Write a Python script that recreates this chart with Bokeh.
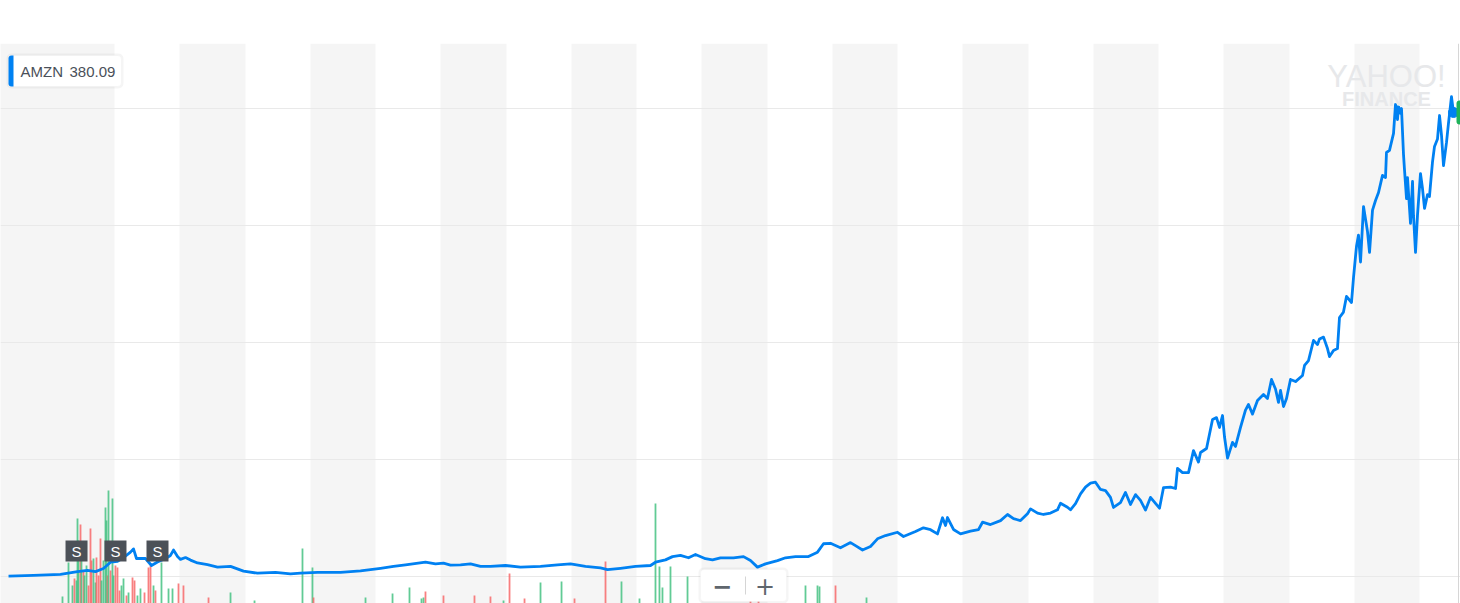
from bokeh.plotting import figure
from bokeh.models import Range1d, BoxAnnotation, Label
from bokeh.core.properties import value
from bokeh.embed import file_html
from bokeh.resources import INLINE

# ---------------- data ----------------
years = [
    1997.376, 1997.759, 1998.172, 1998.433, 1998.586, 1998.709, 1998.831, 1998.939, 1999.046, 1999.138,
    1999.245, 1999.291, 1999.337, 1999.475, 1999.567, 1999.659, 1999.782, 1999.858, 1999.904, 1999.966,
    2000.011, 2000.088, 2000.165, 2000.272, 2000.425, 2000.579, 2000.778, 2000.977, 2001.191, 2001.467,
    2001.697, 2001.851, 2002.111, 2002.464, 2002.770, 2003.077, 2003.276, 2003.460, 2003.766, 2003.920,
    2004.042, 2004.149, 2004.303, 2004.456, 2004.609, 2004.762, 2004.992, 2005.222, 2005.529, 2005.789,
    2005.989, 2006.218, 2006.448, 2006.556, 2006.755, 2006.985, 2007.215, 2007.291, 2007.444, 2007.552,
    2007.674, 2007.797, 2007.904, 2008.057, 2008.165, 2008.287, 2008.487, 2008.640, 2008.747, 2008.854,
    2008.977, 2009.161, 2009.284, 2009.437, 2009.636, 2009.774, 2009.866, 2009.973, 2010.126, 2010.280,
    2010.356, 2010.464, 2010.586, 2010.693, 2010.816, 2011.000, 2011.092, 2011.276, 2011.398, 2011.506,
    2011.613, 2011.690, 2011.736, 2011.766, 2011.858, 2011.966, 2012.119, 2012.241, 2012.303, 2012.425,
    2012.579, 2012.686, 2012.778, 2012.885, 2012.992, 2013.038, 2013.146, 2013.238, 2013.345, 2013.452,
    2013.498, 2013.605, 2013.651, 2013.728, 2013.805, 2013.881, 2013.958, 2014.034, 2014.111, 2014.188,
    2014.264, 2014.310, 2014.417, 2014.494, 2014.571, 2014.648, 2014.724, 2014.801, 2014.877, 2015.015,
    2015.077, 2015.184, 2015.261, 2015.291, 2015.368, 2015.460, 2015.536, 2015.613, 2015.644, 2015.736,
    2015.828, 2015.889, 2015.935, 2015.981, 2016.012, 2016.058, 2016.134, 2016.180, 2016.257, 2016.333,
    2016.379, 2016.441, 2016.517, 2016.609, 2016.670, 2016.732, 2016.793, 2016.839, 2016.870, 2016.916,
    2016.962, 2017.023, 2017.100, 2017.207, 2017.238, 2017.299, 2017.376, 2017.437, 2017.467, 2017.529,
    2017.590, 2017.621, 2017.682, 2017.743, 2017.774, 2017.835, 2017.881, 2017.958, 2017.989, 2018.034,
    2018.065, 2018.096, 2018.142, 2018.203, 2018.234, 2018.280, 2018.326, 2018.372, 2018.433, 2018.479,
    2018.494, 2018.540, 2018.602, 2018.632, 2018.663, 2018.678, 2018.709, 2018.724, 2018.755, 2018.770,
    2018.801, 2018.816, 2018.862, 2018.893, 2018.908, 2018.939, 2018.969, 2019.015, 2019.046, 2019.077,
    2019.123, 2019.153, 2019.199, 2019.230, 2019.276, 2019.307, 2019.337, 2019.368, 2019.414, 2019.444,
    2019.490, 2019.521,
]
prices = [
    2, 5, 9, 21, 26, 21, 34, 61, 65, 81,
    104, 118, 77, 77, 47, 62, 77, 90, 113, 85,
    73, 81, 70, 58, 51, 40, 43, 23, 14, 18,
    11, 14, 18, 18, 24, 35, 43, 50, 61, 54,
    57, 49, 50, 54, 43, 43, 47, 40, 43, 50,
    54, 43, 37, 29, 35, 43, 47, 61, 71, 85,
    90, 80, 94, 76, 71, 80, 80, 85, 68, 40,
    54, 68, 80, 85, 85, 104, 140, 142, 123, 145,
    132, 113, 128, 161, 175, 189, 171, 192, 208, 200,
    182, 251, 218, 252, 201, 182, 194, 200, 232, 222,
    239, 265, 247, 239, 268, 289, 271, 265, 271, 285,
    313, 296, 285, 311, 353, 382, 399, 403, 372, 367,
    338, 295, 316, 359, 308, 350, 325, 284, 338, 292,
    380, 382, 376, 462, 444, 444, 538, 489, 530, 547,
    671, 679, 637, 688, 596, 506, 573, 556, 637, 711,
    735, 694, 752, 778, 761, 842, 801, 744, 795, 726,
    761, 842, 833, 859, 902, 923, 1009, 991, 1015, 1023,
    974, 940, 966, 974, 1107, 1130, 1197, 1171, 1278, 1410,
    1459, 1344, 1581, 1474, 1385, 1566, 1607, 1641, 1714, 1705,
    1812, 1821, 1894, 2017, 1953, 2009, 1979, 2000, 1803, 1739,
    1615, 1705, 1509, 1688, 1543, 1385, 1543, 1722, 1658, 1573,
    1632, 1624, 1771, 1838, 1870, 1970, 1886, 1756, 1855, 1936,
    2051, 1983,
]

vol_years = [
    1998.203, 1998.295, 1998.356, 1998.387, 1998.418, 1998.433, 1998.448, 1998.479, 1998.494, 1998.525,
    1998.540, 1998.571, 1998.602, 1998.632, 1998.648, 1998.678, 1998.709, 1998.724, 1998.755, 1998.785,
    1998.801, 1998.831, 1998.862, 1998.877, 1998.893, 1998.908, 1998.939, 1998.969, 1998.985, 1999.015,
    1999.046, 1999.077, 1999.107, 1999.138, 1999.184, 1999.215, 1999.276, 1999.307, 1999.352, 1999.398,
    1999.460, 1999.521, 1999.552, 1999.598, 1999.628, 1999.720, 1999.828, 1999.889, 1999.981, 2000.057,
    2000.441, 2000.778, 2001.146, 2001.881, 2002.034, 2002.050, 2002.847, 2003.261, 2003.521, 2003.705,
    2003.736, 2003.766, 2004.042, 2004.517, 2004.762, 2004.962, 2005.054, 2005.284, 2005.529, 2005.851,
    2006.050, 2006.525, 2006.770, 2007.046, 2007.291, 2007.352, 2007.398, 2007.521, 2007.782, 2008.747,
    2008.870, 2009.590, 2009.774, 2009.805, 2010.050, 2010.525,
]
vol_values = [
    24, 58, 35, 42, 40, 102, 80, 96, 60, 50,
    45, 55, 35, 92, 60, 62, 38, 63, 45, 82,
    40, 60, 113, 100, 45, 130, 50, 122, 45, 55,
    53, 30, 35, 42, 25, 28, 43, 40, 25, 32,
    28, 53, 55, 35, 30, 58, 32, 32, 37, 35,
    23, 28, 20, 72, 53, 23, 23, 27, 33, 22,
    23, 29, 25, 25, 24, 20, 47, 22, 38, 39,
    22, 59, 39, 22, 117, 54, 33, 54, 44, 22,
    24, 35, 35, 34, 35, 23,
]
vol_direction = [
    "up", "up", "up", "down", "up", "up", "up", "down", "up", "down",
    "up", "up", "down", "down", "down", "up", "up", "down", "down", "down",
    "up", "up", "up", "up", "down", "up", "down", "up", "up", "down",
    "down", "down", "up", "up", "down", "up", "down", "down", "up", "up",
    "down", "down", "down", "up", "down", "up", "up", "up", "down", "down",
    "down", "up", "up", "up", "up", "down", "up", "up", "up", "up",
    "up", "down", "down", "down", "down", "up", "down", "down", "up", "up",
    "down", "down", "up", "up", "up", "up", "up", "up", "up", "down",
    "down", "up", "up", "up", "down", "up",
]

split_years = [1998.418, 1999.015, 1999.659]
split_labels = ["S", "S", "S"]

band_start = [1997.0, 2000.0, 2002.0, 2004.0, 2006.0, 2008.0, 2010.0, 2012.0, 2014.0, 2016.0, 2018.0]
band_end = [1999.0, 2001.0, 2003.0, 2005.0, 2007.0, 2009.0, 2011.0, 2013.0, 2015.0, 2017.0, 2019.0]
grid_prices = [0, 500, 1000, 1500, 2000]

ticker = "AMZN"
last_quote = "380.09"

# ---------------- page pixel -> data helpers (layout only) ----------------
def year_at(px):
    return 1999 + (px - 114) / 65.25

def price_at(py):
    return (576 - py) * 500 / 117

LINE_BLUE = "#0081f2"
UP = "#45c283"
DOWN = "#f7696a"

p = figure(
    width=1460, height=603,
    x_range=Range1d(year_at(0), year_at(1460)),
    y_range=Range1d(price_at(603), price_at(43)),
    output_backend="svg", toolbar_location=None,
    min_border_left=0, min_border_right=0, min_border_top=43, min_border_bottom=0,
    outline_line_color=None, background_fill_color="white", border_fill_color="white",
)
p.extra_y_ranges = {"vol": Range1d(17, 577)}
p.axis.visible = False
p.grid.visible = False

# alternating year bands
p.vstrip(x0=band_start, x1=band_end, fill_color="#f5f5f5", line_color=None)
# horizontal gridlines
p.hspan(y=grid_prices, line_color="#e9e9e9", line_width=1)

# volume bars
vol_colors = [UP if d == "up" else DOWN for d in vol_direction]
p.vbar(x=vol_years, top=vol_values, bottom=0, width=1.8 / 65.25,
       fill_color=vol_colors, line_color=None, fill_alpha=0.85, y_range_name="vol")

# price line
p.line(years, prices, line_color=LINE_BLUE, line_width=2.8, line_join="round")
p.scatter([years[-1]], [prices[-1]], size=10, fill_color=LINE_BLUE, line_color=LINE_BLUE)

# split markers
s_y = [price_at(550.5)] * len(split_years)
p.rect(x=split_years, y=s_y, width=22, height=21, width_units="screen", height_units="screen",
       fill_color="#4c5158", line_color=None)
p.text(x=split_years, y=s_y, text=split_labels, text_align="center", text_baseline="middle",
       text_color="white", text_font_size="15px", text_font=value("Liberation Sans"))

# right edge rule and cut-off price tab
p.add_layout(BoxAnnotation(left=year_at(1457.5), right=year_at(1458.5), top=price_at(43), bottom=price_at(603),
                           fill_color="#d6d6d6", fill_alpha=1, line_color=None))
p.add_layout(BoxAnnotation(left=year_at(1456), right=year_at(1466), top=price_at(100), bottom=price_at(124),
                           fill_color="#1fb35a", fill_alpha=1, line_color=None, border_radius=3))

# legend box
p.add_layout(BoxAnnotation(left=year_at(6), right=year_at(123), top=price_at(53), bottom=price_at(88),
                           fill_color="black", fill_alpha=0.04, line_color=None, border_radius=5))
p.add_layout(BoxAnnotation(left=year_at(8), right=year_at(121), top=price_at(55), bottom=price_at(86),
                           fill_color="white", fill_alpha=1, line_color="#ececec", border_radius=4))
p.add_layout(BoxAnnotation(left=year_at(8), right=year_at(13), top=price_at(55), bottom=price_at(86),
                           fill_color=LINE_BLUE, fill_alpha=1, line_color=None,
                           border_radius=(3, 0, 0, 3)))
p.add_layout(Label(x=year_at(20), y=price_at(71), text=ticker, text_baseline="middle",
                   text_font="Liberation Sans", text_font_size="15px", text_color="#4a5059"))
p.add_layout(Label(x=year_at(69), y=price_at(71), text=last_quote, text_baseline="middle",
                   text_font="Liberation Sans", text_font_size="15px", text_color="#4a5059"))

# watermark
p.add_layout(Label(x=year_at(1386), y=price_at(76), text="YAHOO!", text_align="center",
                   text_baseline="alphabetic", text_font="Liberation Sans", text_font_size="31px",
                   text_color="#e7e8ea"))
p.add_layout(Label(x=year_at(1386), y=price_at(98), text="FINANCE", text_align="center",
                   text_baseline="alphabetic", text_font="Liberation Sans", text_font_size="20px",
                   text_font_style="bold", text_color="#e7e8ea"))

# zoom control
p.add_layout(BoxAnnotation(left=year_at(698), right=year_at(788), top=price_at(567), bottom=price_at(603),
                           fill_color="black", fill_alpha=0.04, line_color=None, border_radius=5))
p.add_layout(BoxAnnotation(left=year_at(700), right=year_at(786), top=price_at(569), bottom=price_at(601),
                           fill_color="white", fill_alpha=1, line_color="#ededed", border_radius=4))
p.add_layout(BoxAnnotation(left=year_at(744.5), right=year_at(745.5), top=price_at(576), bottom=price_at(594),
                           fill_color="#d5d5d5", fill_alpha=1, line_color=None))
p.add_layout(Label(x=year_at(721.5), y=price_at(585), text="\u2212", text_align="center",
                   text_baseline="middle", text_font="DejaVu Sans", text_font_size="24px",
                   text_font_style="bold", text_color="#5f666d"))
p.add_layout(Label(x=year_at(764.5), y=price_at(585), text="+", text_align="center",
                   text_baseline="middle", text_font="DejaVu Sans", text_font_size="24px",
                   text_color="#5f666d"))

open("out.html", "w").write(file_html(p, INLINE, title="AMZN"))
